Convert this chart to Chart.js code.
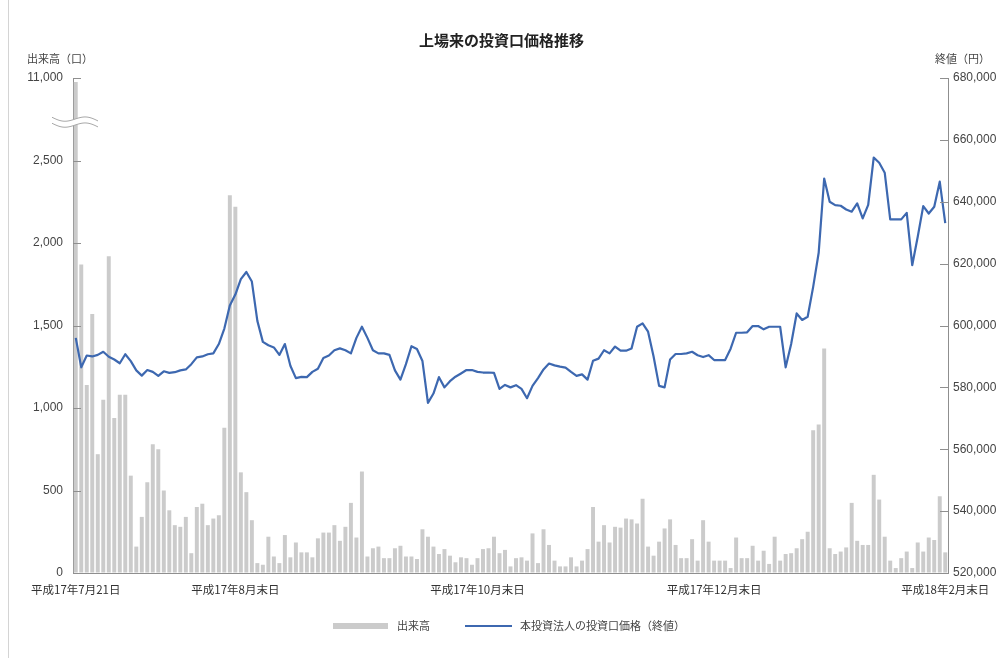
<!DOCTYPE html>
<html lang="ja">
<head>
<meta charset="UTF-8">
<title>上場来の投資口価格推移</title>
<script src="https://cdn.jsdelivr.net/npm/chart.js@4.4.1/dist/chart.umd.min.js"></script>
<style>
  html, body { margin: 0; padding: 0; background: #fff; }
  body { width: 1003px; height: 658px; position: relative; overflow: hidden; font-family: "Noto Sans CJK JP", sans-serif; color: #333; }
  #frame { position: absolute; left: 8px; top: 0; width: 1px; height: 658px; background: #d4d4d4; }
  canvas { position: absolute; left: 0; top: 0; }
  .title { position: absolute; top: 29px; left: 0; width: 1003px; text-align: center; font-size: 15px; font-weight: bold; color: #222; }
  .axis-title { position: absolute; top: 50px; font-size: 11px; color: #444; }
  .legend { position: absolute; top: 617px; left: 0; font-size: 11px; color: #444; }
  .legend span { position: absolute; white-space: nowrap; }
</style>
</head>
<body>
<div id="frame"></div>
<canvas id="priceChart" width="1003" height="658"></canvas>
<div class="title">上場来の投資口価格推移</div>
<div class="axis-title" style="left:27px">出来高（口）</div>
<div class="axis-title" style="left:935px">終値（円）</div>
<div class="legend" id="legend"></div>
<script>
// 出来高 (口) - daily, first day is off the chart (axis is broken above 2,500)
const volume = [
  10600, 1870, 1140, 1570, 720, 1050, 1920, 940, 1080, 1080,
  590, 160, 340, 550, 780, 750, 500, 380, 290, 280,
  340, 120, 400, 420, 290, 330, 350, 880, 2290, 2220,
  610, 490, 320, 60, 50, 220, 100, 60, 230, 95,
  185, 125, 125, 95, 210, 245, 245, 290, 195, 280,
  425, 215, 615, 100, 150, 160, 90, 90, 150, 165,
  100, 100, 85, 265, 220, 160, 115, 145, 105, 65,
  95, 90, 50, 90, 145, 150, 220, 120, 140,
  40, 90, 95, 75, 240, 60, 265, 170, 75, 40,
  40, 95, 40, 75, 145, 400, 190, 290, 185, 280,
  275, 330, 325, 300, 450, 160, 105, 190, 270, 325,
  170, 90, 90, 205, 75, 320, 190, 75, 75,
  75, 30, 215, 90, 90, 165, 75, 135, 55, 220,
  75, 115, 120, 150, 205, 250, 865, 900, 1360, 150,
  115, 130, 155, 425, 195, 170, 170, 595, 445, 220,
  75, 30, 90, 130, 30, 185, 130, 215, 200, 465, 125
];

// 終値 (円)
const closePrice = [
  596000, 586500, 590300, 590000, 590500, 591500, 589900, 589000, 587800, 590700,
  588500, 585500, 583800, 585600, 585000, 583700, 585200, 584700, 584900, 585500,
  585800, 587500, 589700, 590000, 590700, 591000, 594000, 599000, 606500, 610000,
  615000, 617300, 614200, 601500, 594700, 593600, 592900, 590500, 594000, 587000,
  583000, 583400, 583300, 585000, 586000, 589500, 590300, 592000, 592600, 592000,
  591000, 596000, 599600, 596000, 592000, 591000, 591000, 590500, 585500, 582500,
  587500, 593300, 592400, 588500, 575000, 578000, 583300, 580000, 582000, 583450,
  584500, 585600, 585600, 585000, 584800, 584800, 584700, 579500, 580800,
  580000, 580700, 579500, 576500, 580500, 583000, 585800, 587700, 587100, 586700,
  586400, 585000, 583700, 584200, 582500, 588600, 589300, 592000, 591000, 593200,
  591850, 591850, 592600, 599600, 600700, 598000, 590000, 580500, 580000, 589000,
  590780, 590780, 591000, 591500, 590400, 589800, 590400, 588840, 588840,
  588840, 592500, 597660, 597660, 597800, 599830, 599830, 598760, 599600, 599600,
  599600, 586480, 594000, 603900, 601800, 602840, 612500, 623500, 647500, 640000,
  638900, 638700, 637500, 636800, 639500, 634600, 639000, 654300, 652600, 649400,
  634300, 634300, 634300, 636400, 619500, 628700, 638600, 636200, 638400, 646500, 633100
];

// trading day number (category axis)
const tradingDay = volume.map((_, i) => i + 1);

// x axis labels: [trading day index, label]
const xTickLabels = [
  [0, '平成17年7月21日'],
  [29, '平成17年8月末日'],
  [73, '平成17年10月末日'],
  [116, '平成17年12月末日'],
  [158, '平成18年2月末日']
];

const volumeTicks = [0, 500, 1000, 1500, 2000, 2500, 11000];
const volumeBreak = 2500;     // axis is linear up to here
const volumeShownTop = 3000;  // 11,000 is drawn where 3,000 would be
const priceMin = 520000;
const priceMax = 680000;
const priceStep = 20000;

const labelMap = new Map(xTickLabels);
const axisColor = '#8f8f8f';
const numFont = { family: '"Liberation Sans", Arial, sans-serif', size: 12 };
const jpFont = { family: '"Noto Sans CJK JP", sans-serif', size: 11.5 };

// linear scale with a break above 2,500
class BrokenLinearScale extends Chart.LinearScale {
  getPixelForValue(value) {
    if (value === null || value === undefined) return NaN;
    const shown = value <= volumeBreak
      ? value
      : volumeBreak + (value - volumeBreak) * (volumeShownTop - volumeBreak) / (this.max - volumeBreak);
    return this.getPixelForDecimal(shown / volumeShownTop);
  }
}
BrokenLinearScale.id = 'brokenLinear';
BrokenLinearScale.defaults = Chart.LinearScale.defaults;
Chart.register(BrokenLinearScale);

// short inward tick marks + the break symbol on the left axis
const axisMarks = {
  id: 'axisMarks',
  afterDraw(chart) {
    const c = chart.ctx;
    const area = chart.chartArea;
    c.save();
    c.strokeStyle = axisColor;
    c.lineWidth = 1;
    [['y', area.left, 1], ['y1', area.right, -1]].forEach(([id, x, dir]) => {
      const s = chart.scales[id];
      s.ticks.forEach(t => {
        const py = Math.round(s.getPixelForValue(t.value)) + 0.5;
        if (py > area.bottom - 1) return;
        c.beginPath();
        c.moveTo(x, py);
        c.lineTo(x + dir * 8, py);
        c.stroke();
      });
    });

    const ys = chart.scales.y;
    const yb = (ys.getPixelForValue(volumeBreak) + ys.getPixelForValue(ys.max)) / 2 + 3;
    const x0 = area.left - 21, x1 = area.left + 25;
    const wave = (off) => {
      const pts = [];
      for (let x = x0; x <= x1; x += 1) {
        pts.push([x, yb + off + 3 * Math.sin((x - x0) / (x1 - x0) * Math.PI * 2) + (x - x0) * 0.08 - 2]);
      }
      return pts;
    };
    const top = wave(-3), bottom = wave(3);
    c.beginPath();
    top.forEach(([x, y], i) => i ? c.lineTo(x, y) : c.moveTo(x, y));
    bottom.slice().reverse().forEach(([x, y]) => c.lineTo(x, y));
    c.closePath();
    c.fillStyle = '#fff';
    c.fill();
    c.strokeStyle = '#a8a8a8';
    [top, bottom].forEach(pts => {
      c.beginPath();
      pts.forEach(([x, y], i) => i ? c.lineTo(x, y) : c.moveTo(x, y));
      c.stroke();
    });
    c.restore();
  }
};

const ctx = document.getElementById('priceChart').getContext('2d');
const priceChart = new Chart(ctx, {
  type: 'bar',
  data: {
    labels: tradingDay,
    datasets: [{
      type: 'line',
      label: '本投資法人の投資口価格（終値）',
      data: closePrice,
      yAxisID: 'y1',
      borderColor: '#3d68b0',
      backgroundColor: '#3d68b0',
      borderWidth: 2.2,
      pointRadius: 0,
      tension: 0,
      borderJoinStyle: 'round',
      order: 0
    }, {
      label: '出来高',
      data: volume,
      yAxisID: 'y',
      backgroundColor: '#cbcbcb',
      barPercentage: 0.72,
      categoryPercentage: 1,
      order: 1
    }]
  },
  options: {
    responsive: false,
    animation: false,
    devicePixelRatio: 1,
    layout: { padding: { top: 78, left: 0, right: 0, bottom: 0 } },
    plugins: {
      legend: { display: false },
      tooltip: { enabled: false }
    },
    scales: {
      x: {
        type: 'category',
        offset: true,
        grid: { display: true, drawOnChartArea: false, drawTicks: false },
        border: { display: true, color: axisColor },
        ticks: {
          autoSkip: false,
          maxRotation: 0,
          padding: 10,
          color: '#333',
          font: jpFont,
          callback: (v, i) => labelMap.get(i) || ''
        },
        afterFit: s => { s.height = 85; }
      },
      y: {
        type: 'brokenLinear',
        position: 'left',
        min: 0,
        max: 11000,
        afterBuildTicks: s => { s.ticks = volumeTicks.map(v => ({ value: v })); },
        grid: { display: true, drawOnChartArea: false, drawTicks: false },
        border: { display: true, color: axisColor },
        ticks: {
          padding: 10,
          color: '#444',
          font: numFont,
          callback: v => v.toLocaleString('en-US')
        },
        afterFit: s => { s.width = 73; }
      },
      y1: {
        type: 'linear',
        position: 'right',
        min: priceMin,
        max: priceMax,
        grid: { display: true, drawOnChartArea: false, drawTicks: false },
        border: { display: true, color: axisColor },
        ticks: {
          stepSize: priceStep,
          padding: 5,
          color: '#444',
          font: numFont,
          callback: v => v.toLocaleString('en-US')
        },
        afterFit: s => { s.width = 55; }
      }
    }
  },
  plugins: [axisMarks]
});

// legend built from the datasets
const legend = document.getElementById('legend');
const barSet = priceChart.data.datasets[1];
const lineSet = priceChart.data.datasets[0];
legend.innerHTML =
  '<span style="left:333px;top:6px;width:55px;height:6px;background:' + barSet.backgroundColor + '"></span>' +
  '<span style="left:397px;top:0">' + barSet.label + '</span>' +
  '<span style="left:465px;top:8px;width:47px;height:2px;background:' + lineSet.borderColor + '"></span>' +
  '<span style="left:520px;top:0">' + lineSet.label + '</span>';
</script>
</body>
</html>
